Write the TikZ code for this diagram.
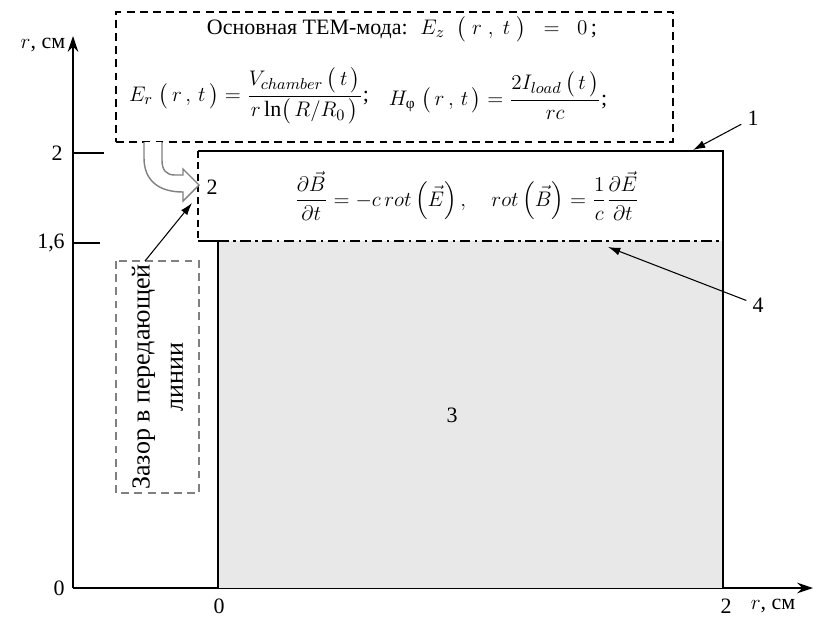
\documentclass[tikz,border=0pt]{standalone}
\usepackage{amsmath}
\usepackage{fontspec}
\setmainfont{Liberation Serif}
\usetikzlibrary{arrows.meta, positioning, fit}
\tikzset{
	axisline/.style={
			line width=0.8pt,
			-{Stealth[length=9pt,width=6pt]}
		},
	tickline/.style={
			line width=0.6pt
		},
	wall/.style={
			line width=1.2pt
		},
	gapline/.style={
			line width=1.1pt,
			dash pattern=on 4pt off 2.5pt
		},
	dashdotline/.style={
			line width=0.9pt,
			dash pattern=on 6pt off 2.5pt on 1.5pt off 2.5pt
		},
	dashbox/.style={
			draw=black,
			line width=1.1pt,
			dash pattern=on 4.5pt off 3pt
		},
	gapbox/.style={
			draw=gray,
			line width=0.9pt,
			dash pattern=on 4.5pt off 3pt,
			align=center,
			inner sep=0pt
		},
	pointer/.style={
			line width=0.6pt,
			-{Latex[length=7pt,width=4.5pt]}
		},
	hollowarrow/.style={
			draw=gray,
			fill=white,
			line width=0.8pt
		},
	cellfill/.style={
			fill=black!9
		}
}

\begin{document}
\begin{tikzpicture}[x=0.02cm, y=-0.02cm, font=\fontsize{12.5}{15}\selectfont]
\useasboundingbox (0,0) rectangle (813,622);

% axes
\coordinate (o) at (73,588);
\coordinate (ytip) at (73,36);
\coordinate (xtip) at (813,588);
\coordinate (t2) at (104,153);
\coordinate (t16) at (100,243);
\draw[axisline] (o) -- (ytip);
\draw[axisline] (o) -- (xtip);
\draw[tickline] (o |- t2) -- (t2);
\draw[tickline] (o |- t16) -- (t16);
\node (ylab) at (43,45) {$r$, см};
\node (xlab) at (773,606) {$r$, см};
\node (y0) at (59,588) {0};
\node (y16) at (51,243) {1,6};
\node (y2) at (57,153) {2};
\node (x0) at (219,606) {0};
\node (x2) at (726,606) {2};

% chamber
\coordinate (a) at (198,151);
\coordinate (b) at (723,151);
\coordinate (c) at (723,588);
\coordinate (d) at (218,588);
\coordinate (e) at (218,241);
\coordinate (f) at (198,241);
\coordinate (g) at (723,241);
\fill[cellfill] (e) rectangle (c);
\draw[wall] (f) -- (e) -- (d);
\draw[wall] (a) -- (b) -- (c);
\draw[gapline] (a) -- (f);
\draw[dashdotline] (e) -- (g);

% TEM box
\node[dashbox, fit={(116,12) (673,142)}, inner sep=0pt] (tembox) {};
\node (tem1) at (402,29) {Основная ТЕМ-мода: \ $E_z\;\;\bigl(\;r\;,\;t\;\bigr)\;\;=\;\;0\,$;};
\node (tem2a) at (249,96) {$E_r\;\bigl(\,r\,,\,t\,\bigr)=\dfrac{V_{chamber}\,\bigl(\,t\,\bigr)}{r\ln\bigl(\,R/R_0\,\bigr)}$;};
\node (tem2b) at (498,96) {$H_{\textrm{φ}}\;\bigl(\,r\,,\,t\,\bigr)=\dfrac{2I_{load}\,\bigl(\,t\,\bigr)}{rc}$;};
\draw[hollowarrow] (144,142) -- (144,158) .. controls (144,180) and (158,192) .. (183,192)
  -- (183,201) -- (199,185) -- (183,169) -- (183,175) -- (175,175)
  .. controls (166,175) and (162,170) .. (162,160) -- (162,142);

\node (maxwell) at (467,196) {$\dfrac{\partial\vec{B}}{\partial t}=-c\,rot\left(\vec{E}\right),\quad
  rot\left(\vec{B}\right)=\dfrac{1}{c}\dfrac{\partial\vec{E}}{\partial t}$};

% labels
\node (lbl1) at (753,118) {1};
\node (lbl2) at (212,187) {2};
\node (lbl3) at (452,415) {3};
\node (lbl4) at (758,305) {4};
\coordinate (tip1) at (693,150);
\coordinate (tip4) at (608,247);
\draw[pointer] (lbl1) -- (tip1);
\draw[pointer] (lbl4) -- (tip4);

% gap box
\node[gapbox, rotate=90, minimum width=4.64cm, minimum height=1.66cm,
  font=\fontsize{14.8}{19}\selectfont] (gap) at (157.5,377) {Зазор в передающей\\линии};
\coordinate (gaptop) at (145,261);
\coordinate (tip2) at (192,203);
\draw[pointer] (gaptop) -- (tip2);
\end{tikzpicture}
\end{document}
